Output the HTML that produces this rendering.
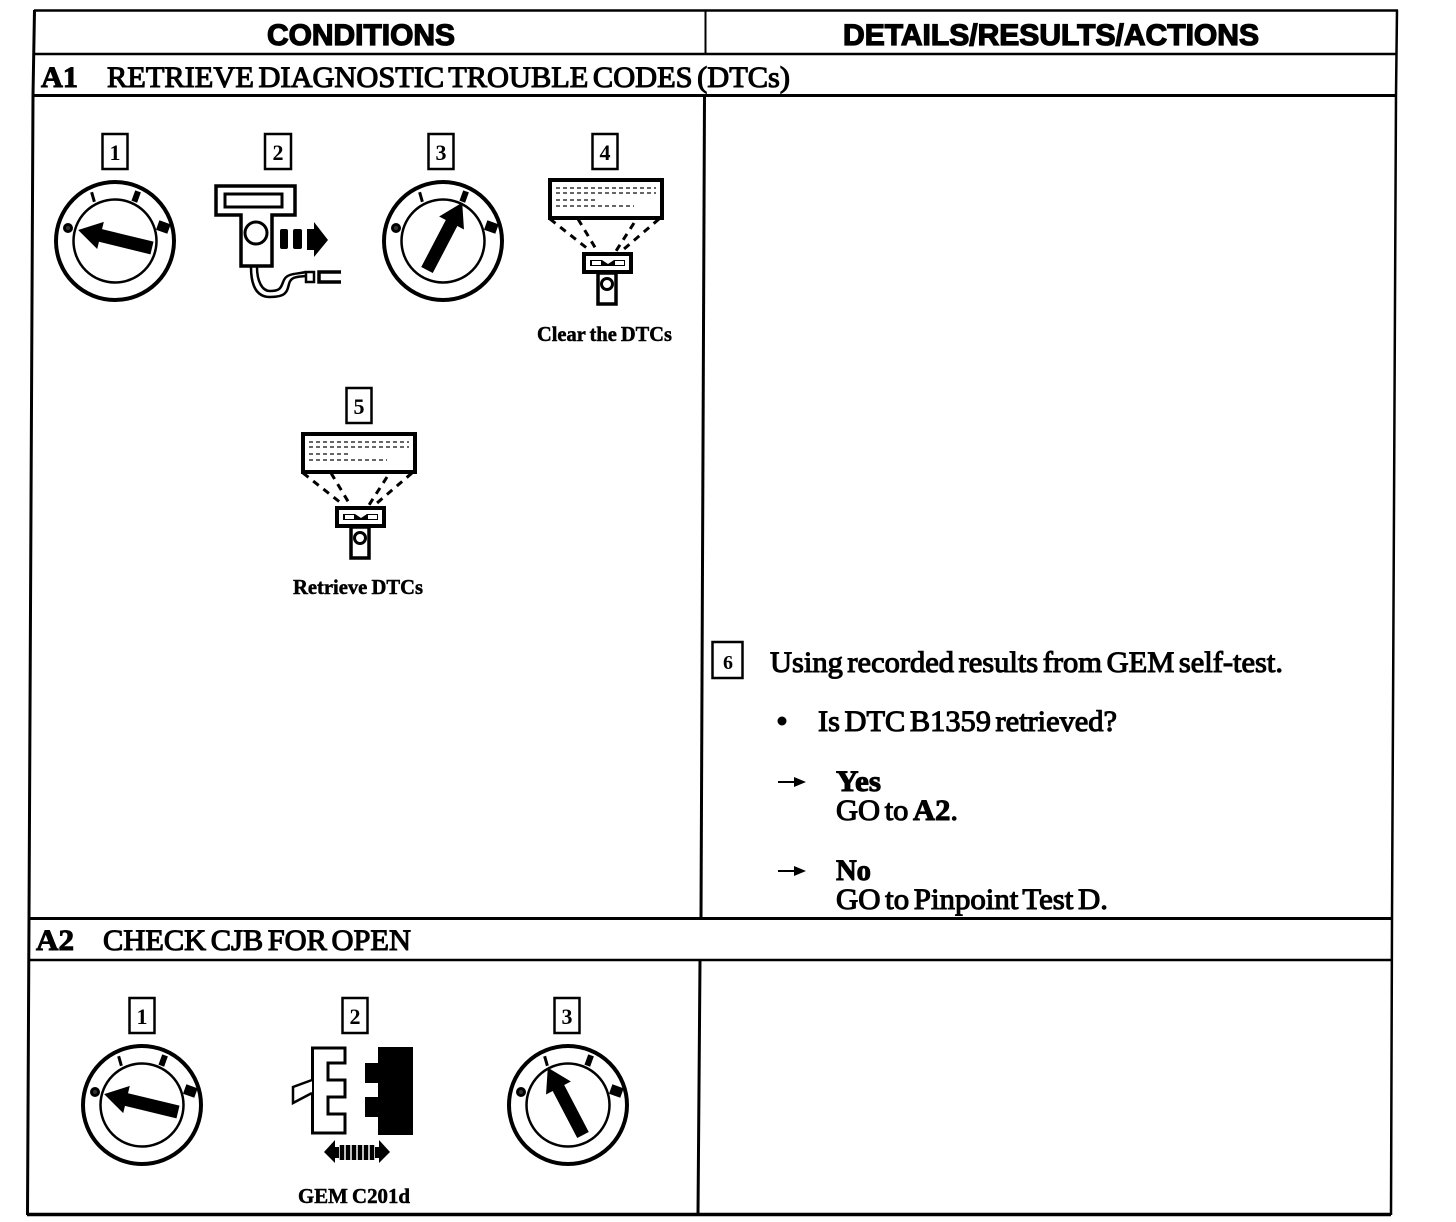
<!DOCTYPE html>
<html><head><meta charset="utf-8"><style>
html,body{margin:0;padding:0;background:#fff}
svg{display:block}
.h{font-family:"Liberation Sans",sans-serif;font-weight:700;font-size:30px;stroke:#000;stroke-width:1.3}
.t{font-family:"Liberation Serif",serif;font-size:30px;stroke:#000;stroke-width:1.1;word-spacing:-3px}
.b{font-family:"Liberation Serif",serif;font-weight:700;font-size:30px;stroke:#000;stroke-width:1}
.c{font-family:"Liberation Serif",serif;font-weight:700;font-size:21px;stroke:#000;stroke-width:.5;word-spacing:-1px}
.n{font-family:"Liberation Serif",serif;font-weight:700;font-size:22px;text-anchor:middle}
</style></head><body>
<svg width="1456" height="1222" viewBox="0 0 1456 1222" xmlns="http://www.w3.org/2000/svg">
<defs>
<g id="dial">
<circle r="59" fill="#fff" stroke="#000" stroke-width="4"/>
<circle r="41.5" fill="none" stroke="#000" stroke-width="2.5"/>
<circle cx="-47" cy="-13" r="3.500" fill="#333" stroke="#000" stroke-width="3"/>
<rect x="-23.500" y="-49" width="3" height="10" transform="rotate(-16 -22 -44)"/>
<rect x="18" y="-50" width="6" height="11" transform="rotate(20 21 -44)"/>
<rect x="42" y="-19" width="12" height="10" transform="rotate(20 48 -13)"/>
</g>
<polygon id="arr" points="0,-6.500 -53,-6.500 -53,-14 -76,0 -53,14 -53,6.500 0,6.500" transform="rotate(180)"/>
<g id="reader">
<rect x="0" y="0" width="112" height="38" fill="#fff" stroke="#000" stroke-width="4"/>
<path d="M6 8H106M6 13H106M6 20H46M6 26H84" stroke="#333" stroke-width="1.500" stroke-dasharray="4 3" fill="none"/>
<path d="M0 39L38 69M28 39L46 69M84 43L66 71M109 39L74 69" stroke="#000" stroke-width="3" stroke-dasharray="7 6" fill="none"/>
<rect x="34" y="74" width="47" height="18" fill="#fff" stroke="#000" stroke-width="4"/>
<path d="M40 80H52L58 84L64 80H75V86H40Z" fill="#000"/>
<rect x="42" y="81" width="9" height="4" fill="#fff"/>
<rect x="65" y="81" width="9" height="4" fill="#fff"/>
<rect x="48" y="93" width="18" height="31" fill="#fff" stroke="#000" stroke-width="3.500"/>
<circle cx="57" cy="104" r="5.500" fill="#fff" stroke="#000" stroke-width="3"/>
</g>
</defs>
<rect width="1456" height="1222" fill="#fff"/>

<g stroke="#000" fill="none">
<path d="M34 10.500H1398" stroke-width="2.500"/>
<path d="M34 54H1397" stroke-width="2.500"/>
<path d="M33 95.500H1396" stroke-width="3"/>
<path d="M28 918.500H1392" stroke-width="3"/>
<path d="M28 960H1392" stroke-width="2.500"/>
<path d="M27 1214.500H1391" stroke-width="3.500"/>
<path d="M34.500 10L33 95L29 918L27.500 1215" stroke-width="3"/>
<path d="M1397 10L1396 95L1392 918L1391 1215" stroke-width="2.500"/>
<path d="M705.500 10V54" stroke-width="2"/>
<path d="M704.500 95L701 918" stroke-width="3"/>
<path d="M700 960L698 1214" stroke-width="3"/>
</g>

<text class="h" x="267" y="45" textLength="188" lengthAdjust="spacingAndGlyphs">CONDITIONS</text>
<text class="h" x="843" y="45" textLength="416" lengthAdjust="spacingAndGlyphs">DETAILS/RESULTS/ACTIONS</text>
<text class="b" x="41" y="87" textLength="37" lengthAdjust="spacingAndGlyphs">A1</text>
<text class="t" x="107" y="87" textLength="683" lengthAdjust="spacingAndGlyphs">RETRIEVE DIAGNOSTIC TROUBLE CODES (DTCs)</text>
<text class="b" x="36" y="950" textLength="38" lengthAdjust="spacingAndGlyphs">A2</text>
<text class="t" x="103" y="950" textLength="308" lengthAdjust="spacingAndGlyphs">CHECK CJB FOR OPEN</text>

<g fill="#fff" stroke="#000" stroke-width="2.500">
<rect x="102.500" y="134" width="25" height="35"/>
<rect x="265" y="134" width="26" height="35"/>
<rect x="428.500" y="134" width="25" height="35"/>
<rect x="592.500" y="134" width="25" height="35"/>
<rect x="346.500" y="388" width="25" height="35"/>
<rect x="712.500" y="642" width="30" height="36"/>
<rect x="129.500" y="998" width="25" height="35"/>
<rect x="342.500" y="998" width="25" height="35"/>
<rect x="554.500" y="998" width="25" height="35"/>
</g>
<text class="n" x="115" y="160">1</text>
<text class="n" x="278" y="160">2</text>
<text class="n" x="441" y="160">3</text>
<text class="n" x="605" y="160">4</text>
<text class="n" x="359" y="414">5</text>
<text class="n" x="728" y="669" style="font-size:20px">6</text>
<text class="n" x="142" y="1024">1</text>
<text class="n" x="355" y="1024">2</text>
<text class="n" x="567" y="1024">3</text>

<use href="#dial" x="115" y="241"/>
<use href="#arr" transform="translate(152 248) rotate(193.700)"/>
<use href="#dial" x="443" y="241"/>
<use href="#arr" transform="translate(427 270) rotate(-62.400)"/>
<use href="#dial" x="142" y="1105"/>
<use href="#arr" transform="translate(178 1112) rotate(193.600)"/>
<use href="#dial" x="568" y="1105"/>
<use href="#arr" transform="translate(583 1135) rotate(242.400)"/>

<!-- scan tool 2 -->
<g stroke="#000" fill="#fff">
<path d="M216 186H295V215H272V266H241V215H216Z" stroke-width="3.500"/>
<rect x="225" y="194" width="57" height="13" stroke-width="3"/>
<circle cx="256" cy="233" r="11" stroke-width="3"/>
<path d="M251 267C251 285 256 297 270 297C286 297 287 292 289 284C291 276 298 277 306 276M257 267C257 281 262 291 270 291C282 291 281 286 284 280C287 273 298 274 306 272" fill="none" stroke-width="2.500"/>
<rect x="306" y="272" width="8" height="10" stroke-width="2.500"/>
<path d="M341 272H319V282H341" fill="none" stroke-width="3.500"/>
</g>
<rect x="280" y="229" width="8" height="20" rx="2"/>
<rect x="293" y="229" width="9" height="20" rx="2"/>
<polygon points="307,229 314,229 314,222 328,240 314,257 314,250 307,250"/>

<use href="#reader" x="550" y="180"/>
<use href="#reader" x="303" y="434"/>

<text class="c" x="537" y="341" textLength="135" lengthAdjust="spacingAndGlyphs">Clear the DTCs</text>
<text class="c" x="293" y="594" textLength="130" lengthAdjust="spacingAndGlyphs">Retrieve DTCs</text>
<text class="c" x="298" y="1203" textLength="112" lengthAdjust="spacingAndGlyphs">GEM C201d</text>

<!-- connector -->
<path d="M312.500 1048H345V1063H328V1080H345V1097H328V1114H345V1133H312.500Z" fill="#fff" stroke="#000" stroke-width="3"/>
<path d="M312 1080L293 1087V1103L312 1093" fill="#fff" stroke="#000" stroke-width="2.500"/>
<path d="M378 1047H413V1135H378V1117H365V1097H378V1083H365V1063H378Z"/>
<polygon points="324,1152 335,1140 335,1147 339,1147 339,1158 335,1158 335,1163"/>
<polygon points="390,1152 379,1140 379,1147 375,1147 375,1158 379,1158 379,1163"/>
<path d="M342 1145V1160M348 1145V1160M354 1145V1160M360 1145V1160M366 1145V1160M372 1145V1160" stroke="#000" stroke-width="4.500"/>

<!-- right text -->
<text class="t" x="770" y="672" textLength="513" lengthAdjust="spacingAndGlyphs">Using recorded results from GEM self-test.</text>
<circle cx="782" cy="721" r="4.500"/>
<text class="t" x="818" y="731" textLength="299" lengthAdjust="spacingAndGlyphs">Is DTC B1359 retrieved?</text>
<path d="M778 782H797M778 871H797" stroke="#000" stroke-width="2"/>
<polygon points="794,777 806,782 794,787"/>
<polygon points="794,866 806,871 794,876"/>
<text class="b" x="836" y="791" textLength="45" lengthAdjust="spacingAndGlyphs">Yes</text>
<text class="t" x="836" y="820" textLength="122" lengthAdjust="spacingAndGlyphs">GO to <tspan class="b">A2</tspan>.</text>
<text class="b" x="836" y="880" textLength="35" lengthAdjust="spacingAndGlyphs">No</text>
<text class="t" x="836" y="909" textLength="272" lengthAdjust="spacingAndGlyphs">GO to Pinpoint Test D.</text>
</svg>
</body></html>
